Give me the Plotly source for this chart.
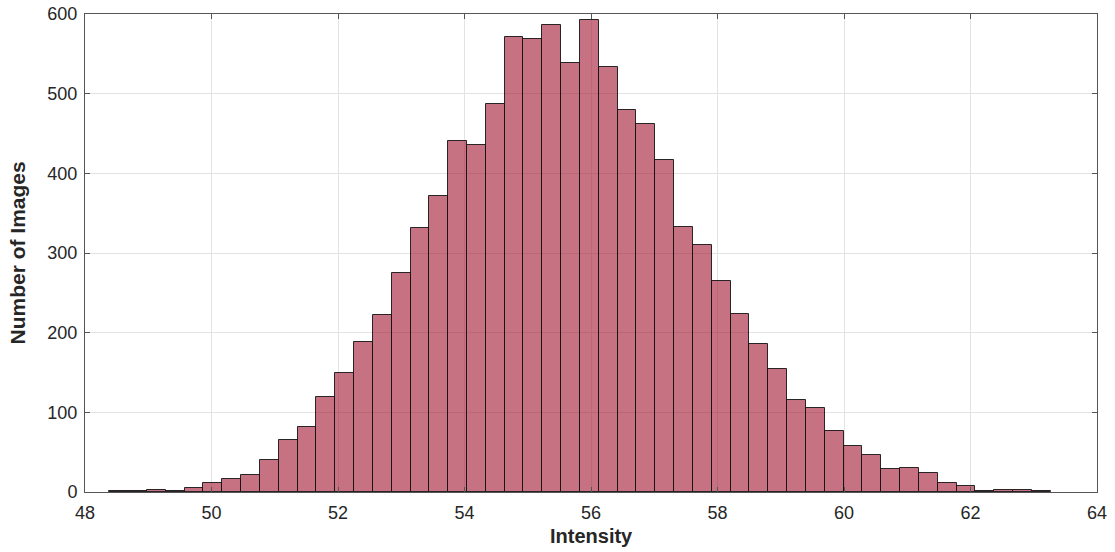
import plotly.graph_objects as go

# Histogram bins (Intensity)
bin_start = 48.383
bin_width = 0.2977
counts = [1, 1, 2, 1, 5, 11, 16, 21, 40, 65,
          82, 119, 149, 188, 222, 275, 332, 371, 440, 436,
          487, 571, 569, 586, 539, 592, 534, 479, 462, 417,
          333, 310, 265, 224, 186, 155, 115, 106, 77, 58,
          46, 29, 30, 24, 11, 7, 1, 3, 2, 1]

x_ticks = [48, 50, 52, 54, 56, 58, 60, 62, 64]
y_ticks = [0, 100, 200, 300, 400, 500, 600]

centers = [bin_start + bin_width * (i + 0.5) for i in range(len(counts))]

FONT = "Liberation Sans, Arial, Helvetica, sans-serif"

fig = go.Figure()
fig.add_trace(go.Bar(
    x=centers, y=counts, width=bin_width,
    marker=dict(color="rgba(162,20,47,0.6)",
                line=dict(color="rgba(20,20,20,0.9)", width=1)),
    hoverinfo="x+y",
))

axis_common = dict(
    showline=True, linecolor="#555555", linewidth=1, mirror="ticks",
    ticks="inside", ticklen=5, tickcolor="#555555",
    showgrid=True, gridcolor="#e3e3e3", gridwidth=1,
    zeroline=False, automargin=False,
    tickfont=dict(family=FONT, size=18, color="#262626"),
)

fig.update_layout(
    width=1115, height=552,
    margin=dict(l=85, r=18, t=13.5, b=59.5),
    plot_bgcolor="white", paper_bgcolor="white",
    showlegend=False, bargap=0,
    xaxis=dict(range=[48, 64], tickvals=x_ticks, ticklabelstandoff=4, **axis_common),
    yaxis=dict(range=[0, 600], tickvals=y_ticks, ticklabelstandoff=3, **axis_common),
    annotations=[
        dict(text="<b>Intensity</b>", xref="paper", yref="paper",
             x=0.5, y=-0.0929, xanchor="center", yanchor="middle", showarrow=False,
             font=dict(family=FONT, size=20, color="#262626")),
        dict(text="<b>Number of Images</b>", xref="paper", yref="paper",
             x=-0.0667, y=0.5, xanchor="center", yanchor="middle", showarrow=False,
             textangle=-90, font=dict(family=FONT, size=21, color="#262626")),
    ],
)

fig.write_html("out.html")
